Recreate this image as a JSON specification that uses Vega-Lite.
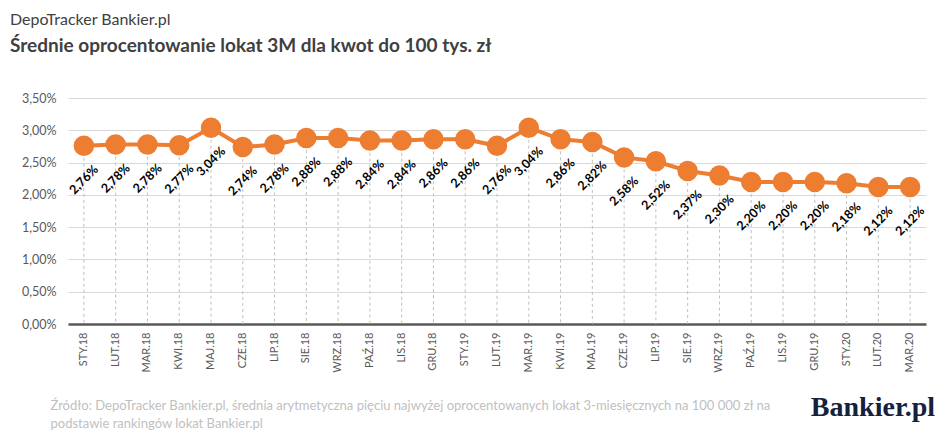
{
  "$schema": "https://vega.github.io/schema/vega-lite/v6.json",
  "autosize": "none",
  "padding": {"left": 68, "top": 98, "right": 19, "bottom": 119},
  "width": 858,
  "height": 226,
  "background": "white",
  "config": {
    "view": {"stroke": null},
    "font": "Lato",
    "locale": {"number": {"decimal": ",", "thousands": " ", "grouping": [3], "currency": ["", " zł"]}}
  },
  "title": {
    "text": "DepoTracker Bankier.pl",
    "subtitle": "Średnie oprocentowanie lokat 3M dla kwot do 100 tys. zł",
    "anchor": "start",
    "frame": "group",
    "dx": -58,
    "offset": 36,
    "font": "Lato",
    "fontSize": 16,
    "fontWeight": "normal",
    "color": "#404040",
    "subtitleFont": "Lato",
    "subtitleFontSize": 19,
    "subtitleFontWeight": "bold",
    "subtitleColor": "#404040",
    "subtitlePadding": 9
  },
  "data": {
    "values": [
      {"m": "STY.18", "v": 0.0276},
      {"m": "LUT.18", "v": 0.0278},
      {"m": "MAR.18", "v": 0.0278},
      {"m": "KWI.18", "v": 0.0277},
      {"m": "MAJ.18", "v": 0.0304},
      {"m": "CZE.18", "v": 0.0274},
      {"m": "LIP.18", "v": 0.0278},
      {"m": "SIE.18", "v": 0.0288},
      {"m": "WRZ.18", "v": 0.0288},
      {"m": "PAŹ.18", "v": 0.0284},
      {"m": "LIS.18", "v": 0.0284},
      {"m": "GRU.18", "v": 0.0286},
      {"m": "STY.19", "v": 0.0286},
      {"m": "LUT.19", "v": 0.0276},
      {"m": "MAR.19", "v": 0.0304},
      {"m": "KWI.19", "v": 0.0286},
      {"m": "MAJ.19", "v": 0.0282},
      {"m": "CZE.19", "v": 0.0258},
      {"m": "LIP.19", "v": 0.0252},
      {"m": "SIE.19", "v": 0.0237},
      {"m": "WRZ.19", "v": 0.0230},
      {"m": "PAŹ.19", "v": 0.0220},
      {"m": "LIS.19", "v": 0.0220},
      {"m": "GRU.19", "v": 0.0220},
      {"m": "STY.20", "v": 0.0218},
      {"m": "LUT.20", "v": 0.0212},
      {"m": "MAR.20", "v": 0.0212}
    ]
  },
  "encoding": {
    "x": {
      "field": "m",
      "type": "ordinal",
      "sort": null,
      "scale": {"paddingInner": 0, "paddingOuter": 0},
      "axis": {
        "title": ["Źródło: DepoTracker Bankier.pl, średnia arytmetyczna pięciu najwyżej oprocentowanych lokat 3-miesięcznych na 100 000 zł na", "podstawie rankingów lokat Bankier.pl"],
        "titleAnchor": "start",
        "titleAlign": "left",
        "titleX": -18,
        "titleY": 85,
        "titleBaseline": "alphabetic",
        "titleFont": "Lato",
        "titleFontSize": 13,
        "titleFontWeight": "normal",
        "titleColor": "#bfbfbf",
        "titleLineHeight": 18,
        "titleLimit": 0,
        "labelAngle": -90,
        "labelFontSize": 11,
        "labelColor": "#595959",
        "labelPadding": 8,
        "ticks": false,
        "domainColor": "#595959",
        "domainWidth": 2.5,
        "grid": false
      }
    },
    "y": {
      "field": "v",
      "type": "quantitative",
      "scale": {"domain": [0, 0.035], "nice": false, "zero": true},
      "axis": {
        "title": null,
        "format": ".2%",
        "values": [0, 0.005, 0.01, 0.015, 0.02, 0.025, 0.03, 0.035],
        "labelFontSize": 12.5,
        "labelColor": "#595959",
        "labelPadding": 12,
        "ticks": false,
        "domain": false,
        "gridColor": "#d9d9d9",
        "gridWidth": 1
      }
    }
  },
  "layer": [
    {
      "mark": {"type": "rule", "color": "#bfbfbf", "strokeDash": [3, 3], "strokeWidth": 1},
      "encoding": {"y2": {"datum": 0}}
    },
    {
      "mark": {"type": "line", "color": "#ED7D31", "strokeWidth": 4}
    },
    {
      "mark": {"type": "point", "filled": true, "opacity": 1, "color": "#ED7D31", "size": 420}
    },
    {
      "mark": {"type": "text", "angle": -45, "dx": -24, "dy": 24, "align": "center", "baseline": "middle", "fontSize": 12.5, "fontWeight": "bold", "color": "#000000"},
      "encoding": {"text": {"field": "v", "type": "quantitative", "format": ".2%"}}
    },
    {
      "data": {"values": [{"logo": "Bankier.pl", "pos": "MAR.20", "lv": -0.013}]},
      "mark": {"type": "text", "align": "right", "baseline": "middle", "dx": 25, "font": "Liberation Serif", "fontSize": 28, "fontWeight": "bold", "color": "#15213d"},
      "encoding": {
        "x": {"field": "pos", "type": "ordinal"},
        "y": {"field": "lv", "type": "quantitative"},
        "text": {"field": "logo"}
      }
    }
  ]
}
